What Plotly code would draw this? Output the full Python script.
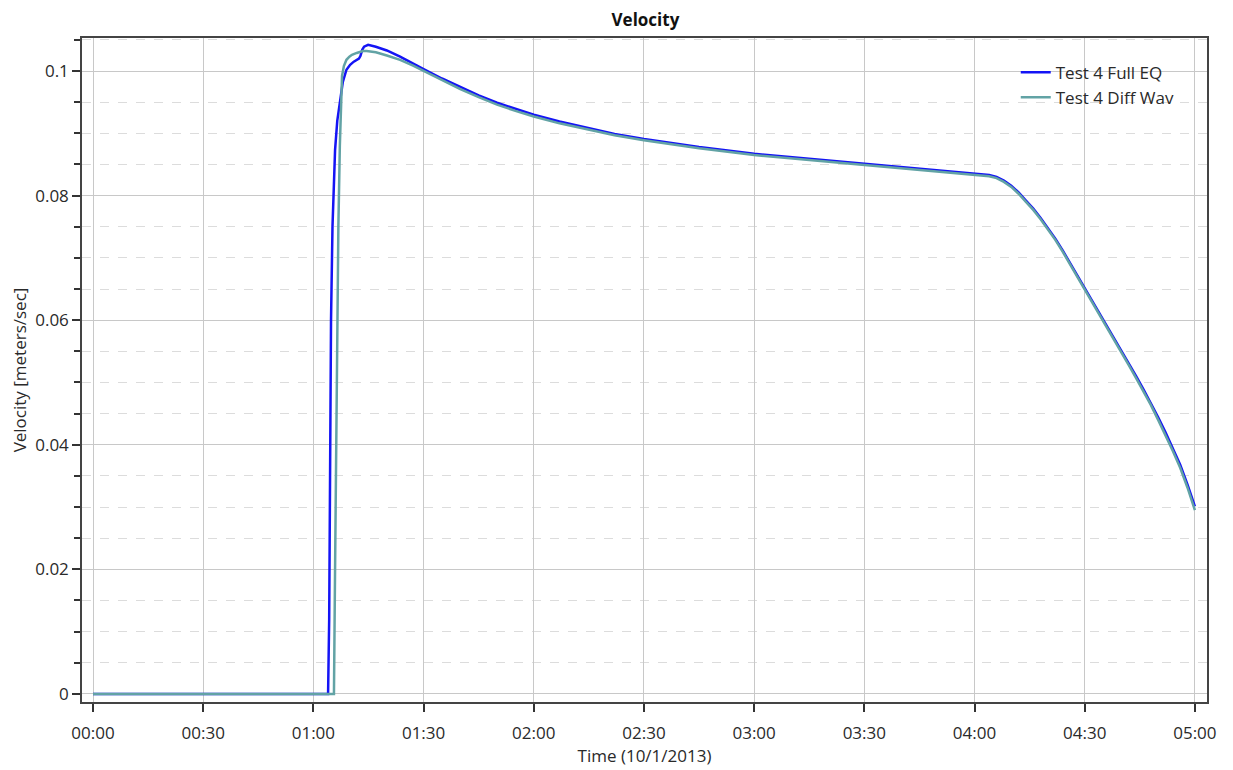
import plotly.graph_objects as go
from datetime import datetime, timedelta

BASE = datetime(2013, 10, 1)

# Time in minutes since 00:00 and velocity in m/s
full_t = [0, 64.0, 64.3, 64.6, 64.8, 65.2, 65.6, 65.9, 66.5, 67.2,
          68.0, 69.0, 70.0, 71.0, 71.8, 72.4, 72.8, 73.3, 73.8, 74.4,
          74.9, 77, 80, 83.6, 87, 90, 95, 100, 105, 110,
          115, 120, 127, 135, 142, 150, 165, 180, 195, 210,
          225, 240, 242, 244, 246, 248, 250, 252, 254, 256,
          258, 260, 262, 264, 266, 268, 270, 272, 274, 276,
          278, 280, 282, 284, 286, 288, 290, 292, 294, 296,
          298, 300]
full_v = [0, 0, 0.012, 0.040, 0.060, 0.075, 0.083, 0.0873, 0.092, 0.0951,
          0.0982, 0.1002, 0.1010, 0.1015, 0.1018, 0.1020, 0.1024, 0.1034, 0.1039, 0.1041,
          0.1042, 0.1039, 0.1033, 0.1023, 0.1013, 0.1003, 0.0988, 0.0974, 0.0961, 0.0949,
          0.0939, 0.0930, 0.0919, 0.0908, 0.0899, 0.0891, 0.0878, 0.0867, 0.0859, 0.0851,
          0.0843, 0.0836, 0.0835, 0.0833, 0.0830, 0.0824, 0.0816, 0.0805, 0.0792, 0.0779,
          0.0764, 0.0748, 0.0731, 0.0712, 0.0692, 0.0672, 0.0652, 0.0632, 0.0612, 0.0592,
          0.0572, 0.0552, 0.0531, 0.0510, 0.0489, 0.0467, 0.0444, 0.0420, 0.0395, 0.0368,
          0.0336, 0.0301]

diff_t = [0, 65.6, 65.9, 66.3, 66.8, 67.2, 67.5, 67.8, 68.3, 69.0,
          69.8, 70.5, 71.8, 72.7, 73.5, 74.5, 77, 80, 83.6, 87,
          90, 95, 100, 105, 110, 115, 120, 127, 135, 142,
          150, 165, 180, 195, 210, 225, 240, 242, 244, 246,
          248, 250, 252, 254, 256, 258, 260, 262, 264, 266,
          268, 270, 272, 274, 276, 278, 280, 282, 284, 286,
          288, 290, 292, 294, 296, 298, 300]
diff_v = [0, 0, 0.020, 0.050, 0.075, 0.088, 0.095, 0.0992, 0.1008, 0.1018,
          0.1023, 0.1026, 0.1029, 0.1031, 0.1032, 0.1032, 0.1030, 0.1025, 0.1018, 0.1009,
          0.1000, 0.0985, 0.0971, 0.0958, 0.0946, 0.0936, 0.0927, 0.0916, 0.0906, 0.0897,
          0.0889, 0.0876, 0.0865, 0.0857, 0.0849, 0.0841, 0.0834, 0.0833, 0.0831, 0.0828,
          0.0822, 0.0814, 0.0803, 0.0790, 0.0777, 0.0762, 0.0746, 0.0729, 0.0710, 0.0690,
          0.0670, 0.0650, 0.0630, 0.0610, 0.0590, 0.0570, 0.0550, 0.0528, 0.0507, 0.0486,
          0.0464, 0.0440, 0.0416, 0.0390, 0.0363, 0.0331, 0.0295]

tick_minutes = [0, 30, 60, 90, 120, 150, 180, 210, 240, 270, 300]
tick_labels = ["00:00", "00:30", "01:00", "01:30", "02:00", "02:30", "03:00", "03:30", "04:00", "04:30", "05:00"]


def to_dt(mins):
    return [BASE + timedelta(minutes=m) for m in mins]


FONT = "Open Sans"
FS = 17
TXT = "#2a2a2a"

fig = go.Figure()
fig.add_trace(go.Scatter(x=to_dt(full_t), y=full_v, mode="lines", name="Test 4 Full EQ",
                         line=dict(color="#1414f5", width=2.5)))
fig.add_trace(go.Scatter(x=to_dt(diff_t), y=diff_v, mode="lines", name="Test 4 Diff Wav",
                         line=dict(color="#62a3a5", width=2.5)))

# the page body adds an 8px offset, margins compensate for it
fig.update_layout(
    width=1233, height=770,
    margin=dict(l=74, r=34, t=30, b=76, autoexpand=False),
    paper_bgcolor="white", plot_bgcolor="white",
    font=dict(family=FONT, size=FS, color=TXT),
    title=dict(text="<b>Velocity</b>", xref="container", x=0.517, xanchor="center",
               yref="container", y=0.985, yanchor="middle",
               font=dict(family=FONT, size=FS, color="#111")),
    showlegend=True,
    legend=dict(x=0.83, xanchor="left", y=0.975, yanchor="top", bgcolor="rgba(0,0,0,0)",
                font=dict(family=FONT, size=FS, color=TXT), tracegroupgap=0, itemwidth=30),
)

fig.update_xaxes(
    type="date", automargin=False,
    range=[BASE - timedelta(minutes=3.0), BASE + timedelta(minutes=303.3)],
    tickmode="array", tickvals=to_dt(tick_minutes), ticktext=tick_labels,
    showgrid=True, gridcolor="#c8c8c8", gridwidth=1,
    showline=True, linecolor="#444", linewidth=1.5, mirror=True,
    ticks="outside", ticklen=8, tickcolor="#333", tickwidth=1.5,
    ticklabelstandoff=7,
    zeroline=False,
    title=dict(text="Time (10/1/2013)", font=dict(family=FONT, size=FS, color=TXT), standoff=6),
    tickfont=dict(family=FONT, size=FS, color=TXT),
)

fig.update_yaxes(
    automargin=False,
    range=[-0.0013, 0.1053],
    tick0=0, dtick=0.02,
    showgrid=True, gridcolor="#c8c8c8", gridwidth=1,
    minor=dict(dtick=0.005, showgrid=True, gridcolor="#dcdcdc", griddash="dash",
               ticks="outside", ticklen=6, tickcolor="#333", tickwidth=1.5),
    showline=True, linecolor="#444", linewidth=1.5, mirror=True,
    ticks="outside", ticklen=8, tickcolor="#333", tickwidth=1.5,
    zeroline=False,
    title=dict(text="Velocity [meters/sec]", font=dict(family=FONT, size=FS, color=TXT), standoff=6),
    tickfont=dict(family=FONT, size=FS, color=TXT),
)

fig.write_html("out.html")
